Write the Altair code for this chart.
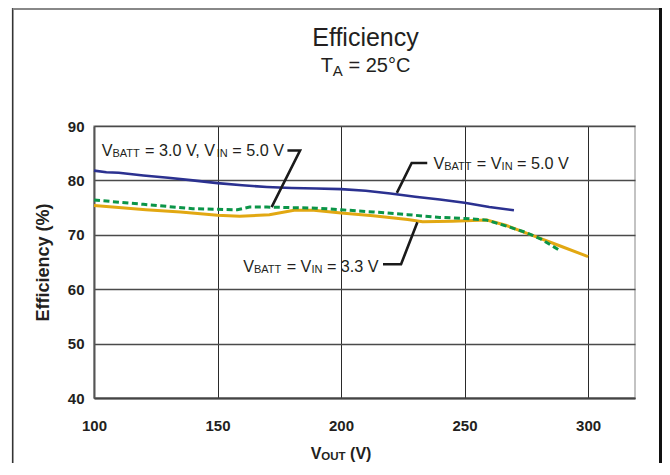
import altair as alt
import pandas as pd

# ---------------- data ----------------
x_ticks = [100, 150, 200, 250, 300]
y_ticks = [40, 50, 60, 70, 80, 90]

# V_BATT = V_IN = 5.0 V
vout_50 = [100, 105, 110, 120, 130, 140, 150, 160, 170, 180, 190, 200, 210, 220, 230, 240, 250, 260, 270]
eff_50 = [81.8, 81.5, 81.4, 80.9, 80.5, 80.0, 79.5, 79.1, 78.8, 78.6, 78.5, 78.4, 78.1, 77.6, 77.0, 76.5, 75.9, 75.1, 74.5]

# V_BATT = 3.0 V, V_IN = 5.0 V (dashed)
vout_3050 = [100, 110, 120, 130, 140, 150, 158, 163, 170, 180, 190, 200, 213, 227, 240, 250, 259, 267, 275, 281, 289]
eff_3050 = [76.4, 76.0, 75.6, 75.2, 74.8, 74.7, 74.6, 75.1, 75.1, 75.0, 74.9, 74.6, 74.2, 73.7, 73.2, 73.0, 72.7, 71.6, 70.4, 69.2, 67.0]

# V_BATT = V_IN = 3.3 V
vout_33 = [100, 110, 121, 135, 150, 159, 171, 181, 189, 200, 213, 227, 233, 245, 259, 267, 278, 289, 300]
eff_33 = [75.4, 75.0, 74.6, 74.2, 73.6, 73.4, 73.7, 74.5, 74.5, 74.0, 73.5, 72.8, 72.4, 72.5, 72.7, 71.7, 69.8, 67.9, 66.0]

# annotation texts: (segment, is_subscript)
label_segments = [
    [("V", False), ("BATT", True), (" = 3.0 V, V", False), ("IN", True), (" = 5.0 V", False)],
    [("V", False), ("BATT", True), (" = V", False), ("IN", True), (" = 5.0 V", False)],
    [("V", False), ("BATT", True), (" = V", False), ("IN", True), (" = 3.3 V", False)],
]
label_x = [103.1, 237.4, 160.4]
label_y = [84.5, 82.1, 63.1]
leader_x = [[178.3, 183.4, 171.9], [234.9, 228.6, 222.6], [217.0, 224.3, 230.9]]
leader_y = [[85.5, 85.5, 75.1], [83.2, 83.2, 77.7], [64.6, 64.6, 72.3]]

title_text = "Efficiency"
subtitle_segments = [("T", False), ("A", True), (" = 25°C", False)]
xtitle_segments = [("V", False), ("OUT", True), (" (V)", False)]
xtitle_center = 200
ytitle_text = "Efficiency (%)"

# ---------------- layout / style ----------------
W, H = 541, 272
FONT = "Liberation Sans"
TXT = "#231f20"
X_DOMAIN = [100, 319]
Y_DOMAIN = [40, 90]

xs = alt.Scale(domain=X_DOMAIN, nice=False, zero=False)
ys = alt.Scale(domain=Y_DOMAIN, nice=False, zero=False)

AW = {" ": 278, "=": 584, ".": 278, ",": 278, "V": 667, "B": 667, "A": 667, "T": 611,
      "I": 278, "N": 722, "°": 400, "C": 722, "O": 778, "U": 722, "(": 333, ")": 333}


def text_width(s, size):
    return sum(AW.get(ch, 556) for ch in s) * size / 1000.0


def segment_layers(segs, data, enc, main, sub, weight, drop, center=False):
    widths = [text_width(t, sub if is_sub else main) for t, is_sub in segs]
    off = -sum(widths) / 2 if center else 0.0
    layers = []
    for (t, is_sub), w in zip(segs, widths):
        size = sub if is_sub else main
        shown = t.lstrip(" ")
        lead = text_width(t[: len(t) - len(shown)], size)
        layers.append(
            alt.Chart(data).mark_text(
                text=shown, dx=off + lead, dy=drop if is_sub else 0, align="left",
                baseline="alphabetic", font=FONT,
                fontSize=size, fontWeight=weight, color=TXT,
            ).encode(**enc)
        )
        off += w
    return layers


def series_df(xv, yv):
    return pd.DataFrame({"vout": xv, "eff": yv})


x_axis = alt.Axis(values=x_ticks, grid=True, gridColor="#2a2a2a", gridWidth=1,
                  domainColor="#444", domainWidth=2, ticks=False, labelFlush=False,
                  labelFont=FONT, labelFontWeight="bold", labelFontSize=15,
                  labelColor=TXT, labelPadding=20, title=None)
y_axis = alt.Axis(values=y_ticks, grid=True, gridColor="#4a4a4a", gridWidth=1.3,
                  domainColor="#555", domainWidth=2, ticks=False, labelFlush=False,
                  labelFont=FONT, labelFontWeight="bold", labelFontSize=15,
                  labelColor=TXT, labelPadding=10,
                  title=ytitle_text, titleFont=FONT, titleFontWeight="bold",
                  titleFontSize=18, titleColor=TXT, titleAngle=270,
                  titleAlign="center", titleBaseline="alphabetic",
                  titleX=-46, titleY=H / 2)

enc_xy = dict(x=alt.X("vout:Q", scale=xs), y=alt.Y("eff:Q", scale=ys))

line_50 = alt.Chart(series_df(vout_50, eff_50)).mark_line(
    color="#2b3190", strokeWidth=2.6).encode(
    x=alt.X("vout:Q", scale=xs, axis=x_axis),
    y=alt.Y("eff:Q", scale=ys, axis=y_axis))
line_33 = alt.Chart(series_df(vout_33, eff_33)).mark_line(
    color="#e2a812", strokeWidth=3).encode(**enc_xy)
line_3050 = alt.Chart(series_df(vout_3050, eff_3050)).mark_line(
    color="#0b9548", strokeWidth=3, strokeDash=[6, 3.5]).encode(**enc_xy)

# leader lines
lead_rows = []
for i, (lx, ly) in enumerate(zip(leader_x, leader_y)):
    for j, (a, b) in enumerate(zip(lx, ly)):
        lead_rows.append({"vout": a, "eff": b, "lid": i, "ord": j})
leaders = alt.Chart(pd.DataFrame(lead_rows)).mark_line(
    color="#1a1a1a", strokeWidth=2.6).encode(
    x=alt.X("vout:Q", scale=xs), y=alt.Y("eff:Q", scale=ys),
    detail="lid:N", order="ord:Q")

layers = [line_50, line_33, line_3050, leaders]

# annotation labels
for segs, lx, ly in zip(label_segments, label_x, label_y):
    layers += segment_layers(segs, pd.DataFrame({"vout": [lx], "eff": [ly]}), enc_xy,
                             16.2, 11, "normal", 1)

one = pd.DataFrame({"k": [0]})

# title and subtitle
layers.append(alt.Chart(one).mark_text(
    text=title_text, align="center", baseline="alphabetic", font=FONT,
    fontSize=25, color=TXT).encode(x=alt.value(W / 2 + 1), y=alt.value(-80)))
layers += segment_layers(subtitle_segments, one,
                         dict(x=alt.value(W / 2 + 1), y=alt.value(-54)),
                         20, 15, "normal", 4, center=True)

# x-axis title with subscript
layers += segment_layers(xtitle_segments, pd.DataFrame({"vout": [xtitle_center]}),
                         dict(x=alt.X("vout:Q", scale=xs), y=alt.value(H + 61)),
                         16, 11.5, "bold", 1, center=True)

# outer frame
layers.append(alt.Chart(one).mark_rule(color="#333", strokeWidth=1.6).encode(
    x=alt.value(-81.3), y=alt.value(-118), y2=alt.value(H + 65)))
layers.append(alt.Chart(one).mark_rule(color="#888", strokeWidth=2).encode(
    x=alt.value(-81.3), x2=alt.value(W + 27), y=alt.value(-117)))
layers.append(alt.Chart(one).mark_rule(color="#111", strokeWidth=3).encode(
    x=alt.value(W + 25.5), y=alt.value(-118), y2=alt.value(H + 65)))

chart = alt.layer(*layers).properties(
    width=W, height=H,
    autosize=alt.AutoSizeParams(type="none"),
    padding={"left": 86, "top": 118, "right": 27, "bottom": 65},
    background="white",
).configure_view(stroke="#b0b0b0", strokeWidth=1.5)

chart.save("out.html", embed_options={"renderer": "svg", "actions": False})
